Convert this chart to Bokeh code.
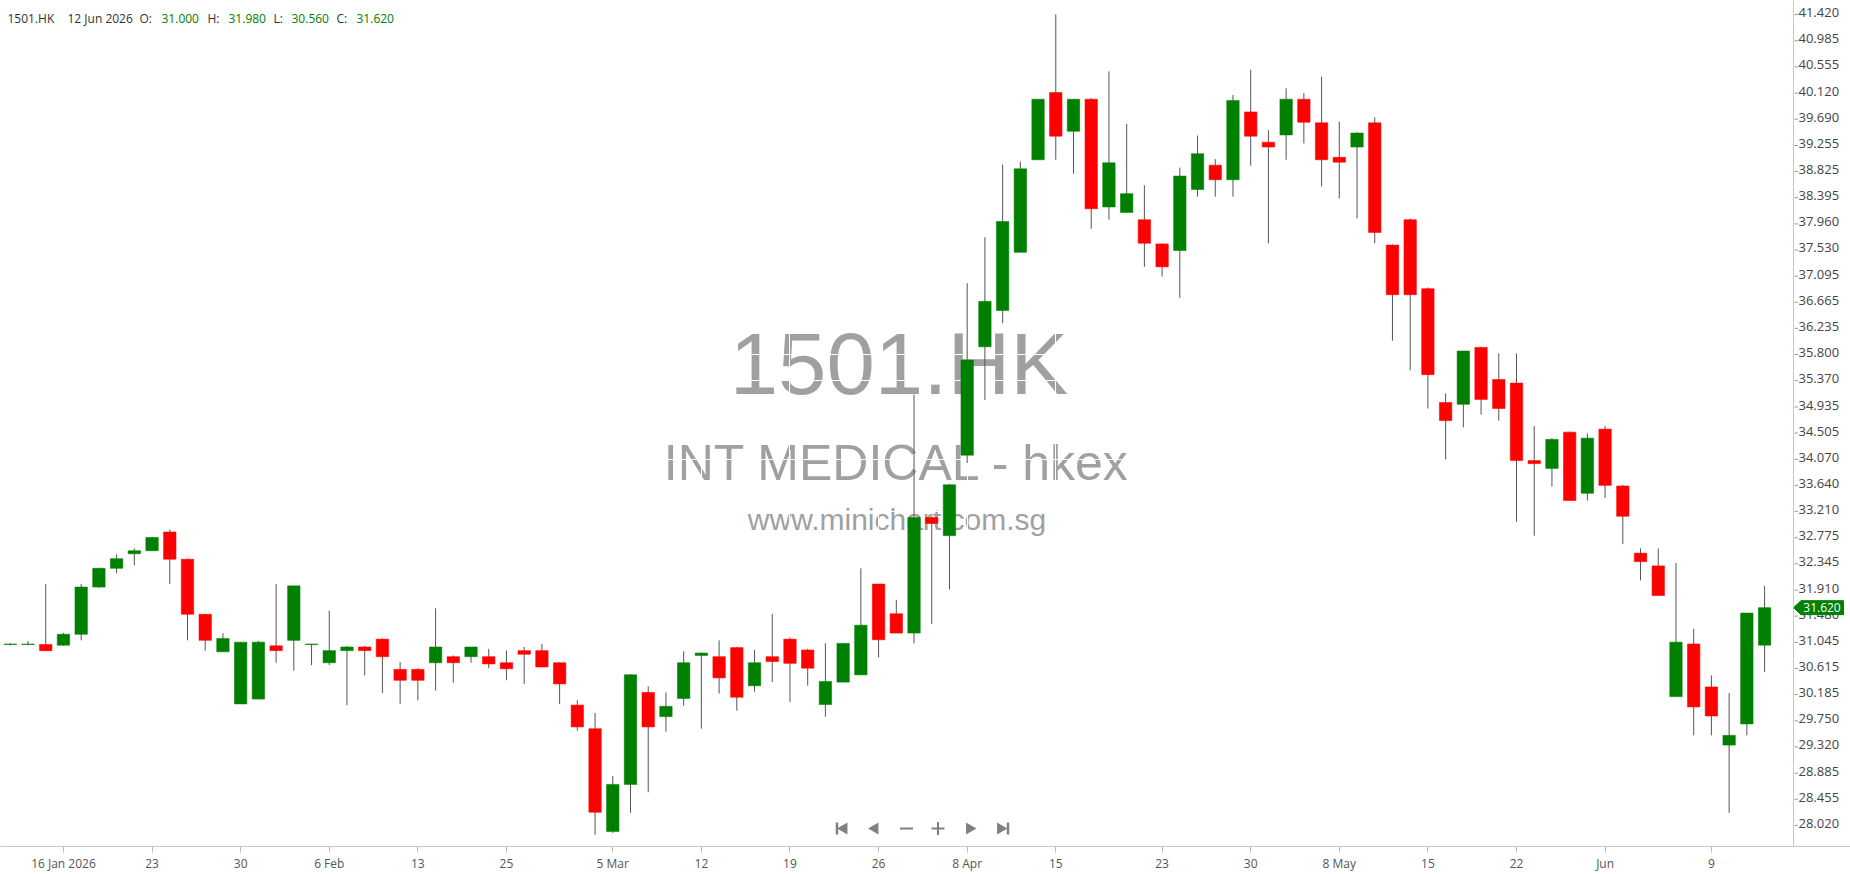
from bokeh.plotting import figure
from bokeh.models import ColumnDataSource, FixedTicker, Grid, Range1d, Span
from bokeh.core.properties import value
from bokeh.embed import file_html
from bokeh.resources import INLINE

# ---------------- data ----------------
ticker_symbol = "1501.HK"
company_name = "INT MEDICAL - hkex"
website = "www.minichart.com.sg"
last_date = "12 Jun 2026"

opens = [31.01, 31.01, 31.01, 31.00, 31.18, 31.96, 32.27, 32.51, 32.56, 32.87,
         32.42, 31.51, 30.89, 30.03, 30.11, 30.99, 31.08, 31.01, 30.71, 30.91,
         30.97, 31.10, 30.60, 30.60, 30.71, 30.81, 30.81, 30.81, 30.71, 30.91,
         30.91, 30.71, 30.01, 29.62, 27.92, 28.70, 30.22, 29.82, 30.12, 30.83,
         30.81, 30.96, 30.33, 30.81, 31.10, 30.92, 30.02, 30.39, 30.51, 32.01,
         31.52, 31.20, 33.11, 32.81, 34.14, 35.93, 36.53, 37.49, 39.02, 40.13,
         39.49, 40.02, 38.24, 38.15, 38.03, 37.63, 37.52, 38.53, 38.93, 38.69,
         39.81, 39.31, 39.43, 40.02, 39.63, 39.06, 39.23, 39.63, 37.61, 38.03,
         36.89, 35.01, 34.98, 35.92, 35.39, 35.33, 34.05, 33.92, 34.52, 33.51,
         34.57, 33.63, 32.52, 32.31, 30.15, 31.02, 30.31, 29.35, 29.70, 31.00]
highs = [31.035, 31.07, 32.01, 31.20, 32.01, 32.28, 32.50, 32.60, 32.79, 32.91,
         32.43, 31.52, 31.20, 31.05, 31.07, 32.01, 31.98, 31.02, 31.57, 30.99,
         30.99, 31.11, 30.72, 30.62, 31.61, 30.83, 30.97, 30.94, 30.91, 30.97,
         31.02, 30.72, 30.09, 29.88, 28.84, 30.52, 30.32, 30.22, 30.90, 30.88,
         31.08, 30.97, 30.92, 31.52, 31.13, 30.94, 31.03, 31.03, 32.27, 32.01,
         31.75, 35.14, 33.12, 33.66, 36.98, 37.74, 38.94, 38.99, 40.02, 41.42,
         40.02, 40.04, 40.48, 39.61, 38.60, 37.64, 38.89, 39.42, 39.03, 40.09,
         40.51, 39.51, 40.20, 40.12, 40.39, 39.65, 39.48, 39.72, 37.62, 38.05,
         36.91, 35.16, 35.86, 35.93, 35.82, 35.82, 34.62, 34.42, 34.53, 34.50,
         34.62, 33.65, 32.60, 32.60, 32.36, 31.27, 30.50, 30.21, 31.53, 31.98]
lows = [31.00, 31.00, 30.90, 30.99, 31.08, 31.95, 32.19, 32.32, 32.56, 32.01,
        31.08, 30.91, 30.89, 30.03, 30.11, 30.71, 30.58, 30.67, 30.67, 30.01,
        30.50, 30.21, 30.03, 30.09, 30.25, 30.38, 30.71, 30.62, 30.42, 30.36,
        30.64, 30.03, 29.59, 27.87, 27.90, 28.23, 28.57, 29.57, 30.00, 29.62,
        30.20, 29.92, 30.23, 30.39, 30.06, 30.33, 29.82, 30.39, 30.51, 30.80,
        31.20, 31.03, 31.35, 31.92, 34.01, 35.05, 36.32, 37.49, 39.02, 39.02,
        38.79, 37.88, 38.03, 38.15, 37.25, 37.09, 36.74, 38.41, 38.41, 38.41,
        38.92, 37.64, 39.02, 39.29, 38.58, 38.38, 38.05, 37.64, 36.03, 35.54,
        34.91, 34.07, 34.60, 34.81, 34.71, 33.04, 32.81, 33.62, 33.39, 33.39,
        33.43, 32.67, 32.07, 31.82, 30.15, 29.51, 29.51, 28.23, 29.51, 30.56]
closes = [31.02, 31.02, 30.91, 31.18, 31.96, 32.27, 32.43, 32.56, 32.78, 32.42,
          31.51, 31.08, 31.11, 31.05, 31.05, 30.91, 31.98, 31.02, 30.91, 30.97,
          30.91, 30.81, 30.42, 30.42, 30.97, 30.71, 30.97, 30.69, 30.61, 30.85,
          30.64, 30.36, 29.65, 28.24, 28.70, 30.51, 29.65, 29.99, 30.71, 30.87,
          30.46, 30.14, 30.71, 30.73, 30.70, 30.62, 30.40, 31.03, 31.33, 31.09,
          31.20, 33.11, 33.01, 33.65, 35.71, 36.68, 38.00, 38.87, 40.02, 39.41,
          40.02, 38.21, 38.97, 38.46, 37.64, 37.25, 38.75, 39.12, 38.69, 40.00,
          39.41, 39.23, 40.02, 39.64, 39.02, 38.98, 39.46, 37.82, 36.79, 36.79,
          35.47, 34.71, 35.86, 35.06, 34.91, 34.05, 34.00, 34.40, 33.39, 34.42,
          33.64, 33.13, 32.38, 31.82, 31.05, 29.98, 29.83, 29.51, 31.53, 31.62]

x_tick_index = [3, 8, 13, 18, 23, 28, 34, 39, 44, 49, 54, 59, 65, 70, 75, 80, 85, 90, 96]
x_tick_labels = ["16 Jan 2026", "23", "30", "6 Feb", "13", "25", "5 Mar", "12", "19", "26",
                 "8 Apr", "15", "23", "30", "8 May", "15", "22", "Jun", "9"]
y_tick_labels = ["41.420", "40.985", "40.555", "40.120", "39.690", "39.255", "38.825", "38.395",
                 "37.960", "37.530", "37.095", "36.665", "36.235", "35.800", "35.370", "34.935",
                 "34.505", "34.070", "33.640", "33.210", "32.775", "32.345", "31.910", "31.480",
                 "31.045", "30.615", "30.185", "29.750", "29.320", "28.885", "28.455", "28.020"]
y_ticks = [float(s) for s in y_tick_labels]

# ---------------- layout ----------------
W, H = 1850, 874
BOTTOM_PANEL = 27
frame_w = W
frame_h = H - BOTTOM_PANEL
px_per_bar = 17.72
x_start = -0.553
x_end = x_start + frame_w / px_per_bar
px_per_price = 60.6
y_end = 41.651
y_start = y_end - frame_h / px_per_price
AXIS_X = 1793          # page x of the price axis line

GREEN = "#008000"
RED = "#ff0000"
WICK = "#555555"
MARK = "#a0a0a0"


def X(page_x):
    return x_start + page_x / px_per_bar


def Y(page_y):
    return y_end - page_y / px_per_price


p = figure(width=W, height=H, x_range=Range1d(x_start, x_end), y_range=Range1d(y_start, y_end),
           output_backend="svg", toolbar_location=None, y_axis_location=None,
           min_border_left=0, min_border_top=0, min_border_right=0,
           min_border_bottom=BOTTOM_PANEL, outline_line_color=None,
           background_fill_color="white", border_fill_color="white")

# remove the default grids; white grids are added below
for g in p.select(type=Grid):
    g.visible = False

# watermark (below the grid and candles); y = visual centre of each line
for txt, px, py, size in [(ticker_symbol, 898.5, 363, "87px"),
                          (company_name, 896.7, 463.5, "50px"),
                          (website, 896.5, 519.5, "30px")]:
    r = p.text(x=[X(px)], y=[Y(py)], text=[txt], text_font=value("Liberation Sans"),
               text_font_size=size, text_color=MARK, text_align="center",
               text_baseline="middle")
    r.level = "image"

# grid lines (white, only visible over the watermark)
p.add_layout(Grid(dimension=0, ticker=FixedTicker(ticks=x_tick_index), grid_line_color="white"))
p.add_layout(Grid(dimension=1, ticker=FixedTicker(ticks=y_ticks), grid_line_color="white"))

# candles
idx = list(range(len(opens)))
colors = [GREEN if c >= o else RED for o, c in zip(opens, closes)]
src = ColumnDataSource(dict(
    x=idx, open=opens, high=highs, low=lows, close=closes,
    top=[max(o, c) for o, c in zip(opens, closes)],
    bottom=[min(o, c) for o, c in zip(opens, closes)],
    color=colors))
p.segment(x0="x", y0="low", x1="x", y1="high", source=src, line_color=WICK, line_width=1)
p.vbar(x="x", width=0.7, top="top", bottom="bottom", source=src,
       fill_color="color", line_color="color", line_alpha=0.55, line_width=1)

# date axis
p.xaxis.ticker = FixedTicker(ticks=x_tick_index)
p.xaxis.major_label_overrides = {i: s for i, s in zip(x_tick_index, x_tick_labels)}
p.xaxis.major_tick_out = 6
p.xaxis.major_tick_in = 0
p.xaxis.minor_tick_line_color = None
p.xaxis.major_label_standoff = 2
p.xaxis.axis_line_color = "#c8c8c8"
p.xaxis.major_tick_line_color = "#bbbbbb"
p.xaxis.major_label_text_font = "Open Sans"
p.xaxis.major_label_text_font_size = "12px"
p.xaxis.major_label_text_color = "#555555"

# price scale on the right (line, ticks, labels)
p.add_layout(Span(location=X(AXIS_X), dimension="height", line_color="#c8c8c8", line_width=1))
ysrc = ColumnDataSource(dict(y=y_ticks, label=y_tick_labels))
p.segment(x0=X(AXIS_X + 1), x1=X(AXIS_X + 4.5), y0="y", y1="y", source=ysrc,
          line_color="#999999", line_width=1)
p.text(x=X(AXIS_X + 5), y="y", text="label", source=ysrc, text_font=value("Open Sans"),
       text_font_size="13px", text_color="#444444", text_align="left",
       text_baseline="middle", y_offset=-2)

# header line with last candle values
header_text = ["1501.HK", last_date, "O:", f"{opens[-1]:.3f}", "H:", f"{highs[-1]:.3f}",
               "L:", f"{lows[-1]:.3f}", "C:", f"{closes[-1]:.3f}"]
header_px = [7, 67, 139, 161, 207, 228, 273, 291, 336, 356]
header_col = ["#333333", "#333333", "#333333", GREEN, "#333333", GREEN,
              "#333333", GREEN, "#333333", GREEN]
p.text(x=[X(v) for v in header_px], y=[Y(18.3)] * len(header_px), text=header_text,
       text_color=header_col, text_font=value("Open Sans"), text_font_size="12px",
       text_align="left", text_baseline="middle")

# navigation icons
nav_y = Y(829)
p.scatter(x=[X(843.5), X(874.5)], y=[nav_y, nav_y], marker="triangle", angle=1.5708,
          size=12, fill_color="#808080", line_color=None)
p.scatter(x=[X(969), X(1000)], y=[nav_y, nav_y], marker="triangle", angle=-1.5708,
          size=12, fill_color="#808080", line_color=None)
p.scatter(x=[X(836.5), X(1007.5)], y=[nav_y, nav_y], marker="dash", angle=1.5708,
          size=12, line_color="#808080", line_width=2.5)
p.scatter(x=[X(906)], y=[nav_y], marker="dash", size=13, line_color="#808080", line_width=2)
p.scatter(x=[X(937.5)], y=[nav_y], marker="cross", size=13, line_color="#808080", line_width=2)

# last price tag on the price scale
last = closes[-1]
half = 7 / px_per_price
p.patch(x=[X(AXIS_X), X(1800.5), X(1843), X(1843), X(1800.5)],
        y=[last, last + half, last + half, last - half, last - half],
        fill_color=GREEN, line_color=GREEN, line_width=1)
p.text(x=[X(1821.5)], y=[last], text=[f"{last:.3f}"], text_font=value("Open Sans"),
       text_font_size="12px", text_color="white", text_align="center",
       text_baseline="middle")

open("out.html", "w").write(file_html(p, INLINE))
